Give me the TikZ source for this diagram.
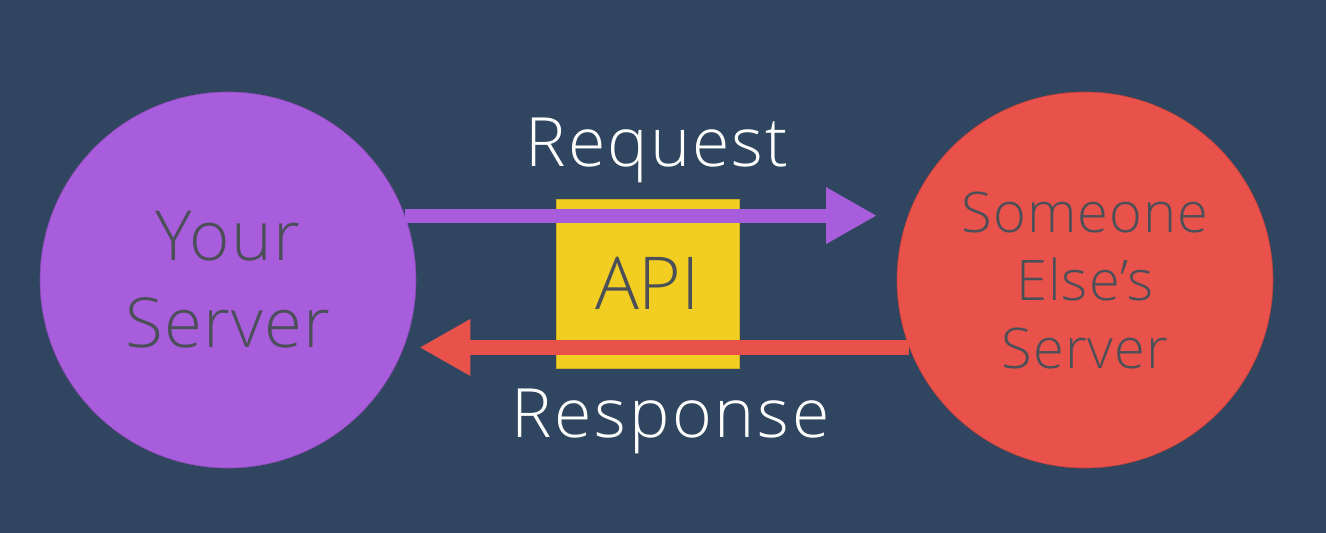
\documentclass[tikz,border=0pt]{standalone}
\usepackage{fontspec}
\setmainfont{Open Sans}[UprightFont=* Light]
\usetikzlibrary{arrows.meta}
\definecolor{bgc}{HTML}{2F4560}
\definecolor{purp}{HTML}{A85DDC}
\definecolor{redc}{HTML}{E9524B}
\definecolor{yell}{HTML}{F2CD22}
\definecolor{txtg}{HTML}{4B5058}
\tikzset{
  server/.style={circle, minimum size=376pt, inner sep=0pt, align=center, text=txtg, draw=#1!80!black, line width=0.6pt, fill=#1},
  apibox/.style={rectangle, minimum width=183pt, minimum height=169pt, inner sep=0pt, fill=yell, draw=yell!85!black, line width=0.5pt, text=txtg, font=\fontsize{73}{80}\selectfont},
  label/.style={text=white, inner sep=0pt, anchor=base, font=\fontsize{68}{74}\selectfont\addfontfeature{LetterSpace=#1}},
  reqarrow/.style={draw=purp, line width=14pt, -{Triangle[length=51pt,width=53pt]}},
  resarrow/.style={draw=redc, line width=15pt, -{Triangle[length=51pt,width=53pt]}}
}
\begin{document}
\begin{tikzpicture}[x=1pt,y=-1pt]
\fill[bgc] (0,0) rectangle (1326,533);
\useasboundingbox (0,0) rectangle (1326,533);
\node[server=purp, font=\fontsize{69}{87}\selectfont\addfontfeature{LetterSpace=2}] (you) at (228,280) {Your\\Server};
\node[server=redc, font=\fontsize{56}{68}\selectfont\addfontfeature{LetterSpace=2}] (other) at (1085,280) {Someone\\Else’s\\Server};
\node[apibox] (api) at (647.5,283.5) {API};
\node[label=3] (req) at (657,166) {Request};
\node[label=4] (res) at (670.5,437) {Response};
\draw[reqarrow, shorten >=31pt] (you.20) -- (other.160);
\draw[resarrow, shorten >=15.5pt] (other.201.86) -- (you.-21.86);
\end{tikzpicture}
\end{document}
